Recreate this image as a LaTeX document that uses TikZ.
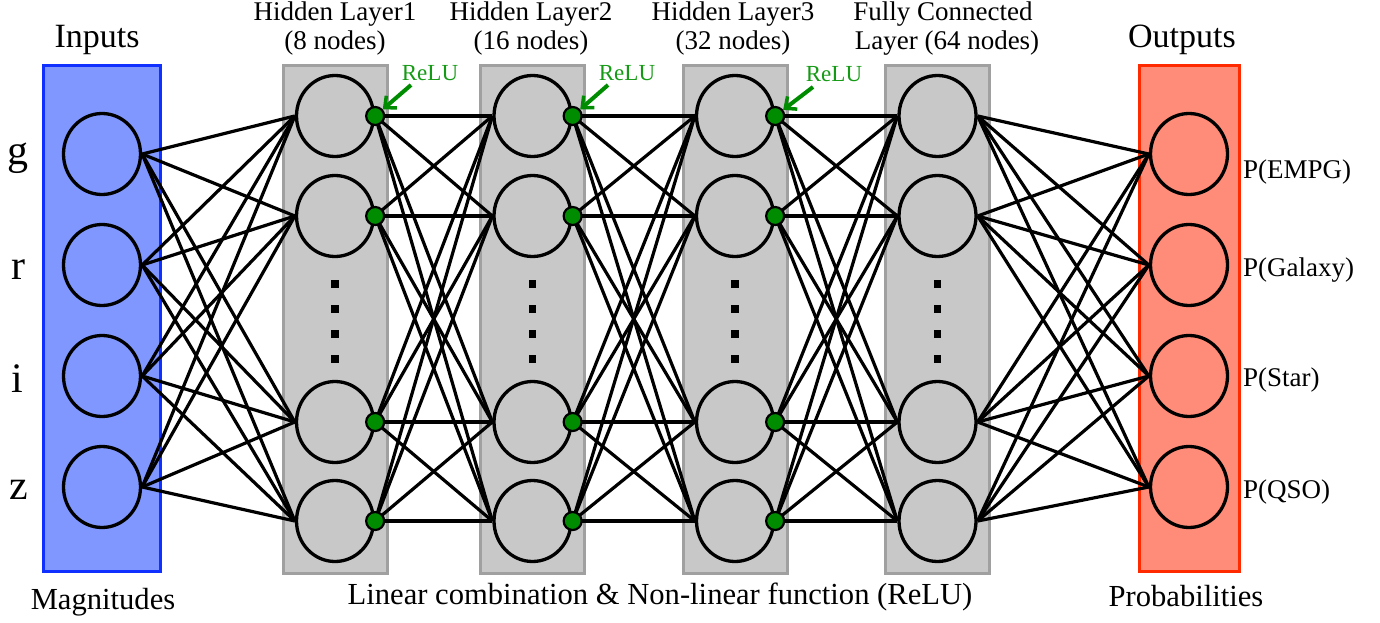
\documentclass[tikz,border=0pt]{standalone}
\usepackage{fontspec}
\setmainfont{Liberation Serif}
\usetikzlibrary{shapes.geometric,arrows.meta}
\definecolor{inblue}{HTML}{8097FF}
\definecolor{inborder}{HTML}{1030FF}
\definecolor{hgray}{HTML}{C8C8C8}
\definecolor{hborder}{HTML}{A0A0A0}
\definecolor{outred}{HTML}{FF8C78}
\definecolor{outborder}{HTML}{FF2A00}
\definecolor{relugreen}{HTML}{008C00}
\definecolor{relutext}{HTML}{159A15}
\begin{document}
\begin{tikzpicture}[x=1pt,y=-1pt,
  neuron/.style={ellipse,draw=black,line width=3.3pt,minimum width=77pt,minimum height=81pt,inner sep=0pt},
  layerbox/.style={rectangle,line width=3pt,minimum width=104pt,minimum height=507pt,inner sep=0pt},
  edge/.style={line width=3.2pt,black},
  relu/.style={circle,fill=relugreen,draw=black,line width=2.2pt,minimum size=18pt,inner sep=0pt},
  vdot/.style={rectangle,fill=black,minimum size=7.5pt,inner sep=0pt},
  relulbl/.style={text=relutext,font=\fontsize{23}{25}\selectfont,anchor=base,inner sep=0pt},
  reluarrow/.style={draw=relugreen,line width=4pt,-{Straight Barb[length=9pt,width=16pt,line width=3.5pt]}},
  title/.style={font=\fontsize{27}{29}\selectfont,anchor=base,inner sep=0pt},
  big/.style={font=\fontsize{34}{36}\selectfont,anchor=base,inner sep=0pt},
  letter/.style={font=\fontsize{42}{44}\selectfont,anchor=base,inner sep=0pt},
  plabel/.style={font=\fontsize{27}{29}\selectfont,anchor=base west,inner sep=0pt},
  bottom/.style={font=\fontsize{30.6}{32}\selectfont,anchor=base,inner sep=0pt}
]
\useasboundingbox (0,0) rectangle (1380,623);
% layer boxes
\node[layerbox,minimum width=117pt,minimum height=506pt,fill=inblue,draw=inborder] (inbox) at (102,318.5) {};
\foreach \x [count=\l] in {335,532.5,735,937.5}
  \node[layerbox,fill=hgray,draw=hborder] (hbox\l) at (\x,319.5) {};
\node[layerbox,minimum width=100pt,minimum height=506pt,fill=outred,draw=outborder] (outbox) at (1189,318.5) {};
% neurons
\foreach \y [count=\i] in {154,265,376,487}
  \node[neuron,fill=inblue] (in\i) at (102,\y) {};
\foreach \x [count=\l] in {335,532.5,735,937.5}{
  \foreach \y [count=\i] in {116,216,422,521}
    \node[neuron,fill=hgray] (h\l-\i) at (\x,\y) {};
  \foreach \y [count=\k] in {284,309,334,359}
    \node[vdot] (vd\l-\k) at (\x,\y) {};
}
\foreach \y [count=\i] in {154,265,376,487}
  \node[neuron,fill=outred] (out\i) at (1189,\y) {};
% connections
\foreach \i in {1,...,4}
  \foreach \j in {1,...,4}{
    \draw[edge] (in\i.east) -- (h1-\j.west);
    \draw[edge] (h4-\i.east) -- (out\j.west);
  }
\foreach \l/\m in {1/2,2/3,3/4}
  \foreach \i in {1,...,4}
    \foreach \j in {1,...,4}
      \draw[edge] (h\l-\i.east) -- (h\m-\j.west);
% ReLU dots
\foreach \l in {1,2,3}
  \foreach \i in {1,...,4}
    \node[relu] (r\l-\i) at (h\l-\i.east) {};
% ReLU labels and arrows
\node[relulbl] (rl1) at (430,81) {ReLU};
\node[relulbl] (rl2) at (627,81) {ReLU};
\node[relulbl] (rl3) at (834,82) {ReLU};
\coordinate (ra1) at (411,85);
\coordinate (ra2) at (608,85);
\coordinate (ra3) at (813,87);
\draw[reluarrow] (ra1) -- (r1-1);
\draw[reluarrow] (ra2) -- (r2-1);
\draw[reluarrow] (ra3) -- (r3-1);
% titles
\node[big] (tin) at (97,48) {Inputs};
\node[big] (tout) at (1182,48) {Outputs};
\node[title] (t1a) at (335,21) {Hidden Layer1};
\node[title] (t1b) at (335,50) {(8 nodes)};
\node[title] (t2a) at (531,21) {Hidden Layer2};
\node[title] (t2b) at (531,50) {(16 nodes)};
\node[title] (t3a) at (733,21) {Hidden Layer3};
\node[title] (t3b) at (733,50) {(32 nodes)};
\node[title] (t4a) at (943,21) {Fully Connected};
\node[title] (t4b) at (947,50) {Layer (64 nodes)};
% input letters
\node[letter] (lg) at (18,164) {g};
\node[letter] (lr) at (18,279) {r};
\node[letter] (li) at (17,392) {i};
\node[letter] (lz) at (19,499) {z};
% output labels
\node[plabel] (p1) at (1243,178) {P(EMPG)};
\node[plabel] (p2) at (1243,276) {P(Galaxy)};
\node[plabel] (p3) at (1243,386) {P(Star)};
\node[plabel] (p4) at (1243,498) {P(QSO)};
% bottom labels
\node[bottom] (bmag) at (103,609) {Magnitudes};
\node[bottom] (blin) at (660,604) {Linear combination \& Non-linear function (ReLU)};
\node[bottom] (bprob) at (1186,606) {Probabilities};
\end{tikzpicture}
\end{document}
